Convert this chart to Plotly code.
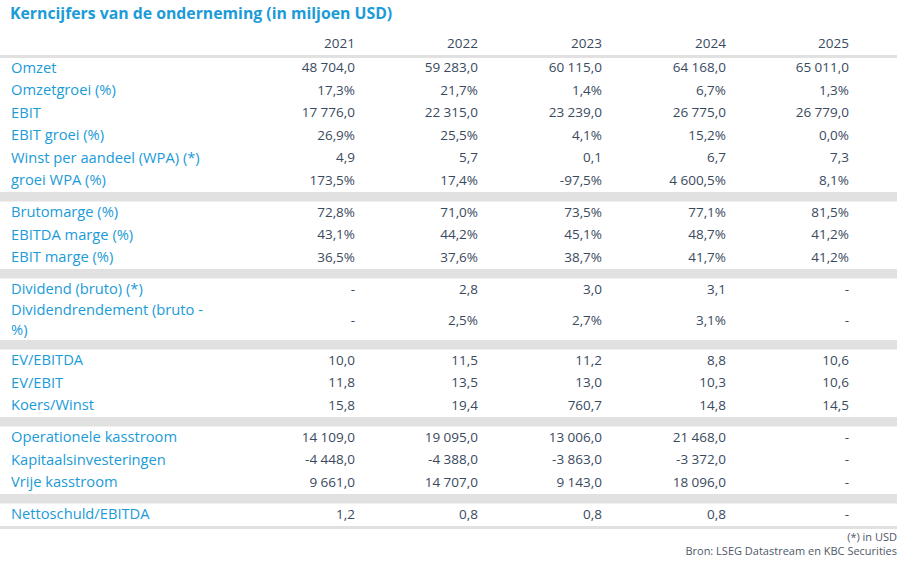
import plotly.graph_objects as go

TITLE = "Kerncijfers van de onderneming (in miljoen USD)"
years = ["2021", "2022", "2023", "2024", "2025"]

labels = [
    "Omzet", "Omzetgroei (%)", "EBIT", "EBIT groei (%)",
    "Winst per aandeel (WPA) (*)", "groei WPA (%)",
    "Brutomarge (%)", "EBITDA marge (%)", "EBIT marge (%)",
    "Dividend (bruto) (*)", "Dividendrendement (bruto -<br>%)",
    "EV/EBITDA", "EV/EBIT", "Koers/Winst",
    "Operationele kasstroom", "Kapitaalsinvesteringen", "Vrije kasstroom",
    "Nettoschuld/EBITDA",
]
col_2021 = ["48 704,0", "17,3%", "17 776,0", "26,9%", "4,9", "173,5%",
            "72,8%", "43,1%", "36,5%", "-", "-", "10,0", "11,8", "15,8",
            "14 109,0", "-4 448,0", "9 661,0", "1,2"]
col_2022 = ["59 283,0", "21,7%", "22 315,0", "25,5%", "5,7", "17,4%",
            "71,0%", "44,2%", "37,6%", "2,8", "2,5%", "11,5", "13,5", "19,4",
            "19 095,0", "-4 388,0", "14 707,0", "0,8"]
col_2023 = ["60 115,0", "1,4%", "23 239,0", "4,1%", "0,1", "-97,5%",
            "73,5%", "45,1%", "38,7%", "3,0", "2,7%", "11,2", "13,0", "760,7",
            "13 006,0", "-3 863,0", "9 143,0", "0,8"]
col_2024 = ["64 168,0", "6,7%", "26 775,0", "15,2%", "6,7", "4 600,5%",
            "77,1%", "48,7%", "41,7%", "3,1", "3,1%", "8,8", "10,3", "14,8",
            "21 468,0", "-3 372,0", "18 096,0", "0,8"]
col_2025 = ["65 011,0", "1,3%", "26 779,0", "0,0%", "7,3", "8,1%",
            "81,5%", "41,2%", "41,2%", "-", "-", "10,6", "10,6", "14,5",
            "-", "-", "-", "-"]
section_sizes = [6, 3, 2, 3, 3, 1]
footnotes = ["(*) in USD", "Bron: LSEG Datastream en KBC Securities"]

W, H = 917, 567
BLUE = "#1b9bd7"
TEXT = "#3a4a5e"
FOOT = "#4f5966"
BAND = "#e1e1e1"
FONT = "Open Sans"

ROW_H = 22.5
TALL_ROW_H = 39
BAND_H = 9.5
TOP = 57
LABEL_X = 11
COL_RIGHT = [355, 478, 602, 726, 849]
TABLE_RIGHT = 897

# row centres and grey separator bands
centres, bands = [], []
y = TOP
i = 0
for s, n in enumerate(section_sizes):
    for _ in range(n):
        h = TALL_ROW_H if "<br>" in labels[i] else ROW_H
        centres.append(y + h / 2 + 0.8)
        y += h
        i += 1
    if s < len(section_sizes) - 1:
        bands.append((y, y + BAND_H))
        y += BAND_H
table_bottom = y

fig = go.Figure()

# title
fig.add_trace(go.Scatter(
    x=[10], y=[15], text=[TITLE], mode="text", textposition="middle right",
    textfont=dict(family=FONT, size=15.8, color=BLUE, weight="bold"),
))

# header years
fig.add_trace(go.Scatter(
    x=COL_RIGHT, y=[45] * len(years), text=years, mode="text",
    textposition="middle left", textfont=dict(family=FONT, size=13.5, color=TEXT),
))

# row labels
fig.add_trace(go.Scatter(
    x=[LABEL_X] * len(labels), y=centres, text=labels, mode="text",
    textposition="middle right", textfont=dict(family=FONT, size=14.7, color=BLUE),
))

# value columns
for xr, col in zip(COL_RIGHT, [col_2021, col_2022, col_2023, col_2024, col_2025]):
    fig.add_trace(go.Scatter(
        x=[xr] * len(col), y=centres, text=col, mode="text",
        textposition="middle left", textfont=dict(family=FONT, size=13.5, color=TEXT),
    ))

# footnotes
fig.add_trace(go.Scatter(
    x=[TABLE_RIGHT] * len(footnotes), y=[table_bottom + 12.5, table_bottom + 26],
    text=footnotes, mode="text", textposition="middle left",
    textfont=dict(family=FONT, size=11, color=FOOT),
))

shapes = [dict(type="rect", x0=0, x1=TABLE_RIGHT, y0=TOP - 2, y1=TOP + 1,
               fillcolor=BAND, line_width=0, layer="below"),
          dict(type="rect", x0=0, x1=TABLE_RIGHT, y0=table_bottom, y1=table_bottom + 3,
               fillcolor=BAND, line_width=0, layer="below")]
for y0, y1 in bands:
    shapes.append(dict(type="rect", x0=0, x1=TABLE_RIGHT, y0=y0, y1=y1,
                       fillcolor=BAND, line_width=0, layer="below"))

fig.update_traces(hoverinfo="skip", showlegend=False)
fig.update_layout(
    width=W, height=H, margin=dict(l=0, r=0, t=0, b=0),
    paper_bgcolor="white", plot_bgcolor="white",
    shapes=shapes,
    xaxis=dict(range=[0, W], visible=False, fixedrange=True),
    yaxis=dict(range=[H, 0], visible=False, fixedrange=True),
)

# page body has an 8px default margin; drop it so the figure sits at 0,0
fig.write_html("out.html", config={"displayModeBar": False},
               post_script="document.body.style.margin='0';")
